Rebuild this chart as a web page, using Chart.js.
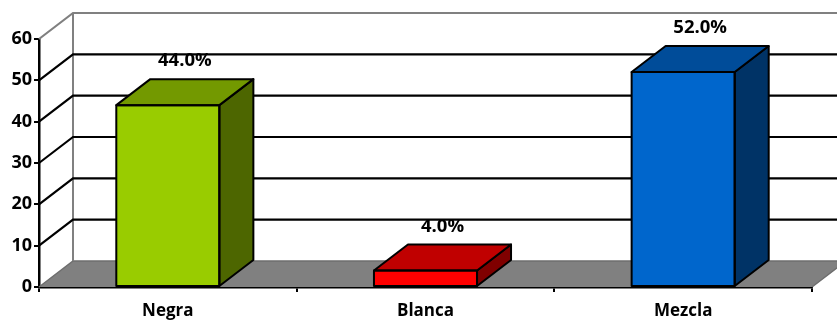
<!DOCTYPE html>
<html><head><meta charset="utf-8">
<script src="https://cdn.jsdelivr.net/npm/chart.js@4"></script>
<style>html,body{margin:0;padding:0;background:#fff}#wrap{width:837px;height:320px}</style>
</head><body><div id="wrap"><canvas id="c" width="837" height="320"></canvas></div>
<script>
const categories = ['Negra', 'Blanca', 'Mezcla'];
const values = [44.0, 4.0, 52.0];
const dataLabels = ['44.0%', '4.0%', '52.0%'];
const frontColors = ['#99CC00', '#FF0000', '#0066CC'];
const topColors = ['#739900', '#C00000', '#004C99'];
const sideColors = ['#4D6600', '#800000', '#003366'];
const yTicks = [0, 10, 20, 30, 40, 50, 60];

const DX = 34, DY = -26;

const depthPlugin = {
  id: 'depth',
  beforeDatasetsDraw(chart) {
    const ctx = chart.ctx, a = chart.chartArea, ys = chart.scales.y, W = chart.width;
    const y0 = ys.getPixelForValue(0);
    ctx.save();
    // floor
    ctx.fillStyle = '#808080';
    ctx.beginPath();
    ctx.moveTo(a.left, y0); ctx.lineTo(a.right, y0);
    ctx.lineTo(a.right + DX, y0 + DY); ctx.lineTo(a.left + DX, y0 + DY);
    ctx.closePath(); ctx.fill();
    ctx.strokeStyle = '#6e6e6e'; ctx.lineWidth = 1.5;
    ctx.beginPath();
    ctx.moveTo(a.left, y0); ctx.lineTo(a.left + DX, y0 + DY); ctx.lineTo(W, y0 + DY);
    ctx.moveTo(a.right, y0); ctx.lineTo(a.right + DX, y0 + DY);
    ctx.stroke();
    // back wall left edge
    const yTop = ys.getPixelForValue(yTicks[yTicks.length - 1]);
    ctx.strokeStyle = '#808080'; ctx.lineWidth = 2;
    ctx.beginPath();
    ctx.moveTo(a.left + DX, y0 + DY); ctx.lineTo(a.left + DX, yTop + DY);
    ctx.stroke();
    // gridlines
    yTicks.forEach((v, i) => {
      if (v === 0) return;
      const py = ys.getPixelForValue(v);
      ctx.strokeStyle = (i === yTicks.length - 1) ? '#808080' : '#000000';
      ctx.lineWidth = 2.2;
      ctx.beginPath();
      ctx.moveTo(a.left, py); ctx.lineTo(a.left + DX, py + DY); ctx.lineTo(W, py + DY);
      ctx.stroke();
    });
    ctx.restore();
  },
  afterDatasetsDraw(chart) {
    const ctx = chart.ctx;
    const meta = chart.getDatasetMeta(0);
    ctx.save();
    ctx.lineWidth = 2; ctx.strokeStyle = '#000'; ctx.lineJoin = 'round';
    meta.data.forEach((bar, i) => {
      const p = bar.getProps(['x', 'y', 'base', 'width'], true);
      const l = p.x - p.width / 2, r = p.x + p.width / 2, t = p.y, b = p.base;
      // side
      ctx.fillStyle = sideColors[i];
      ctx.beginPath();
      ctx.moveTo(r, t); ctx.lineTo(r + DX, t + DY); ctx.lineTo(r + DX, b + DY); ctx.lineTo(r, b);
      ctx.closePath(); ctx.fill(); ctx.stroke();
      // top
      ctx.fillStyle = topColors[i];
      ctx.beginPath();
      ctx.moveTo(l, t); ctx.lineTo(r, t); ctx.lineTo(r + DX, t + DY); ctx.lineTo(l + DX, t + DY);
      ctx.closePath(); ctx.fill(); ctx.stroke();
      // front outline
      ctx.strokeRect(l, t, r - l, b - t);
      // label
      ctx.fillStyle = '#000';
      ctx.font = 'bold 18.5px "Open Sans"';
      ctx.textAlign = 'center'; ctx.textBaseline = 'middle';
      ctx.fillText(dataLabels[i], p.x + DX / 2, t + DY - 18);
    });
    ctx.restore();
  }
};

new Chart(document.getElementById('c'), {
  type: 'bar',
  data: {
    labels: categories,
    datasets: [{
      data: values,
      backgroundColor: frontColors,
      borderColor: '#000',
      borderWidth: 0,
      barPercentage: 0.4,
      categoryPercentage: 1.0
    }]
  },
  options: {
    responsive: false,
    animation: false,
    devicePixelRatio: 1,
    layout: { padding: { top: 39, right: 25, left: 0, bottom: 0 } },
    plugins: { legend: { display: false }, tooltip: { enabled: false } },
    scales: {
      x: {
        offset: true,
        grid: { offset: true, drawOnChartArea: false, drawTicks: true, tickLength: 5, color: '#000', lineWidth: 2 },
        border: { color: '#000', width: 2.5 },
        ticks: { font: { family: 'Open Sans', weight: 'bold', size: 17 }, color: '#000', padding: 9 },
        afterFit(s) { s.height = 33; }
      },
      y: {
        min: 0, max: 60,
        afterBuildTicks(s) { s.ticks = yTicks.map(v => ({ value: v })); },
        grid: { drawOnChartArea: false, drawTicks: true, tickLength: 5, color: '#000', lineWidth: 2 },
        border: { color: '#000', width: 2.5 },
        ticks: { font: { family: 'Open Sans', weight: 'bold', size: 18 }, color: '#000', padding: 2 },
        afterFit(s) { s.width = 39; }
      }
    }
  },
  plugins: [depthPlugin]
});
</script>
</body></html>
